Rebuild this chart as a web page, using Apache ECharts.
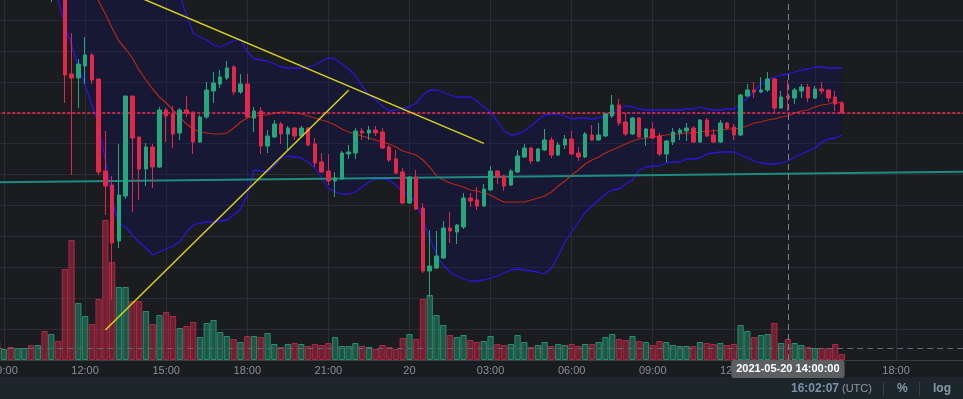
<!DOCTYPE html>
<html>
<head>
<meta charset="utf-8">
<title>15m candles, Bollinger bands</title>
<script src="https://cdn.jsdelivr.net/npm/echarts@6/dist/echarts.min.js"></script>
<style>
  html, body { margin: 0; padding: 0; background: #1b1c20; }
  #chart { width: 963px; height: 399px; }
</style>
</head>
<body>
<div id="chart"></div>
<script>
// 15 minute candles from 2021-05-19 08:45 to 2021-05-20 16:00 (UTC)
// [open, close, low, high]
var ohlc = [
  [43.0,42.2,41.8,43.5],[42.4,43.2,42.0,43.8],[43.2,42.6,42.2,43.5],[42.6,43.0,42.3,43.4],[43.0,43.3,42.7,43.7],
  [43.3,41.2,40.9,43.6],[41.2,42.0,40.8,42.3],[42.0,39.6,39.0,42.3],[39.6,40.5,35.8,41.0],[40.5,38.2,36.6,40.8],
  [38.2,28.5,25.7,38.4],[28.6,28.2,18.5,32.7],[28.2,29.6,25.2,30.1],[29.4,30.5,27.6,32.3],[30.5,28.0,27.6,30.7],
  [28.1,18.8,18.5,28.1],[18.9,17.4,14.5,22.9],[17.5,11.7,6.0,18.4],[11.9,16.5,11.2,21.6],[16.4,26.4,16.1,26.4],
  [26.4,22.2,14.8,26.4],[22.3,19.1,16.0,22.3],[19.1,21.3,17.4,21.7],[21.3,19.3,17.2,21.6],[19.3,25.0,19.2,25.3],
  [25.0,24.4,21.8,25.2],[24.6,22.6,21.2,25.4],[22.7,25.0,22.0,25.2],[25.0,24.7,24.3,26.4],[24.8,21.8,20.6,24.8],
  [21.8,24.3,21.7,24.5],[24.3,27.0,24.1,27.8],[26.9,27.7,25.7,28.8],[27.6,28.3,27.2,29.0],[28.2,29.2,28.0,29.9],
  [29.3,26.8,26.5,29.5],[26.8,27.6,26.6,28.6],[27.6,24.3,24.2,28.6],[24.2,24.9,22.8,25.3],[24.9,21.4,20.6,25.3],
  [21.4,22.4,20.7,23.0],[22.3,23.6,22.2,24.0],[23.6,22.6,21.6,23.8],[22.6,23.2,21.0,23.4],[23.2,22.4,22.0,23.3],
  [22.4,23.2,22.3,23.4],[23.2,21.5,21.4,23.3],[21.6,19.7,19.3,22.2],[19.8,18.8,18.7,20.7],[18.9,17.9,17.5,20.6],
  [17.9,18.2,16.3,18.8],[18.1,20.7,18.0,20.9],[20.6,20.8,20.1,21.5],[20.7,22.9,20.1,23.2],[22.9,22.7,22.0,23.2],
  [22.7,23.0,22.0,23.4],[23.0,22.7,22.4,23.4],[22.8,21.2,21.1,23.2],[21.3,20.0,19.8,21.5],[20.1,18.7,18.6,21.0],
  [18.8,15.7,15.6,19.2],[15.7,18.3,15.6,18.4],[18.3,15.1,15.0,19.0],[15.2,8.9,8.7,15.7],[8.9,9.4,6.3,13.0],
  [9.2,10.4,9.1,12.9],[10.2,13.2,10.1,13.9],[13.2,12.9,11.7,14.8],[12.8,13.5,11.6,13.6],[13.3,16.2,13.1,16.7],
  [16.2,15.9,15.3,16.7],[16.0,15.4,15.0,17.3],[15.4,17.1,15.3,17.6],[17.0,18.9,16.9,19.4],[18.9,18.3,17.6,19.0],
  [18.4,17.4,16.9,18.5],[17.5,18.9,17.4,19.1],[18.8,20.4,18.7,21.0],[20.3,21.2,20.2,21.6],[21.2,19.9,19.6,21.3],
  [19.9,21.1,19.8,21.2],[21.0,22.0,20.9,23.1],[22.0,20.5,20.2,22.3],[20.5,21.5,20.4,21.8],[21.5,22.1,21.1,22.5],
  [22.1,20.6,20.5,22.9],[20.7,20.3,19.9,21.3],[20.3,22.6,20.2,22.8],[22.5,22.0,21.9,23.5],[22.0,22.5,21.9,23.7],
  [22.4,24.6,22.3,24.7],[24.4,25.5,24.2,26.5],[25.5,23.7,23.4,26.1],[23.8,22.6,22.4,24.7],[22.6,24.2,22.5,24.3],
  [24.2,22.3,22.2,24.3],[22.3,23.1,21.4,23.2],[23.1,22.2,22.1,23.8],[22.4,20.6,20.4,22.7],[20.6,21.9,19.8,22.0],
  [21.8,22.8,21.5,23.2],[22.7,23.0,22.0,23.2],[22.9,23.2,21.9,23.7],[23.2,21.8,21.7,23.4],[21.8,24.0,21.7,24.1],
  [24.0,22.4,22.3,24.2],[22.5,21.8,21.7,23.1],[21.8,23.7,21.7,24.0],[23.7,23.2,23.0,23.8],[23.3,22.5,22.0,23.6],
  [22.5,26.5,22.4,26.6],[26.4,27.0,26.3,27.6],[27.0,26.8,26.2,27.8],[26.8,27.0,26.7,28.3],[27.0,28.1,26.8,28.8],
  [28.1,25.2,24.6,28.2],[25.2,26.3,25.1,26.9],[26.4,26.2,24.9,28.0],[26.2,27.0,25.6,27.2],[26.9,27.3,26.2,27.6],
  [27.3,26.2,25.8,27.6],[26.2,27.1,26.1,27.4],[27.1,26.9,26.6,27.8],[27.0,26.2,25.8,27.0],[26.3,25.6,24.9,26.9],
  [25.7,24.7,24.7,25.9]
];

var volume = [
  1900,1100,1300,1200,1200,1500,1500,2900,2600,1900,
  9100,12000,5700,4400,3600,6100,14000,9800,7300,7300,
  5900,5900,4900,3600,4500,4800,4400,3200,3400,3800,
  2300,3700,4000,2800,2400,2100,1800,2400,2400,2300,
  2700,1600,1300,1600,1700,1600,1400,1600,1500,1700,
  2300,1400,1400,1700,1400,1300,1100,1500,1300,1100,
  2200,2600,2100,6100,6500,4500,3500,2500,2300,2500,
  2000,1800,1900,2400,1600,1500,1600,2500,1800,1300,
  1500,1800,1400,1600,1500,1600,1400,1600,1600,1800,
  2300,2600,2100,2000,2400,1900,1800,1500,1900,1800,
  1500,1400,1400,1400,1800,1700,1600,1700,1500,1600,
  3500,2900,2300,2500,2600,3700,1700,2100,1700,1500,
  1300,1200,1200,1200,1600,600
];

// bollinger bands
var bbUpper = [
  44.8,44.9,45.0,45.0,45.1,45.2,45.4,45.7,46.0,46.5,
  46.8,47.0,47.0,46.9,46.8,46.8,46.6,46.4,45.8,44.8,
  43.8,42.6,41.5,40.5,39.5,38.5,37.5,36.4,34.5,32.7,
  32.3,32.0,31.5,31.3,31.6,31.9,32.1,30.8,30.1,30.0,
  29.9,29.6,29.3,29.2,29.2,29.2,29.3,29.5,29.9,30.2,
  30.1,29.6,29.1,28.4,27.4,26.5,26.0,25.4,24.9,25.0,
  25.2,25.3,25.7,26.5,27.0,27.0,26.8,26.5,26.3,26.3,
  26.3,25.9,25.3,24.8,23.9,22.9,22.5,22.6,22.9,23.4,
  24.0,24.5,24.6,24.6,24.4,24.1,24.2,24.2,24.1,24.2,
  24.5,24.8,25.1,25.4,25.3,25.1,25.0,25.0,25.0,25.0,
  25.0,25.0,25.1,25.1,25.3,25.1,25.0,25.0,25.1,25.1,
  25.6,26.2,26.9,27.6,28.1,28.3,28.5,28.6,28.8,29.0,
  29.1,29.3,29.3,29.2,29.2,29.2
];
var bbMid = [
  42.2,42.3,42.4,42.4,42.5,42.5,42.4,42.3,42.0,41.6,
  41.0,40.2,39.4,38.5,37.0,35.9,34.6,33.2,31.9,31.1,
  30.2,29.0,28.0,27.1,26.3,25.7,25.0,24.3,23.6,23.1,
  22.8,22.7,22.6,22.6,22.7,23.2,23.8,24.2,24.4,24.5,
  24.5,24.7,24.8,24.8,24.7,24.6,24.4,24.2,24.0,23.8,
  23.5,23.1,22.8,22.6,22.4,22.2,22.0,21.8,21.6,21.3,
  20.9,20.7,20.5,20.0,19.3,18.4,18.0,17.7,17.5,17.3,
  17.0,16.9,16.7,16.5,16.1,15.8,15.8,15.8,15.8,16.0,
  16.2,16.4,16.8,17.4,17.9,18.5,19.0,19.6,20.0,20.3,
  20.7,21.0,21.3,21.6,21.9,22.1,22.2,22.3,22.4,22.5,
  22.6,22.6,22.7,22.7,22.8,22.9,22.9,23.0,23.1,23.1,
  23.2,23.4,23.7,23.8,24.0,24.1,24.3,24.4,24.7,24.9,
  25.0,25.3,25.5,25.6,25.8,25.7
];
var bbLower = [
  43.5,43.4,43.3,43.2,43.0,42.5,41.5,39.0,37.2,36.0,
  33.5,31.5,29.3,27.5,25.5,23.5,20.0,16.0,13.6,13.3,
  12.5,11.8,11.2,10.5,10.8,11.1,11.4,11.8,12.8,13.5,
  13.7,13.8,13.8,13.9,14.0,14.5,15.1,16.5,19.0,18.9,
  18.8,19.4,20.2,20.4,20.3,20.2,19.8,19.2,18.2,17.2,
  16.8,16.6,16.6,16.8,17.3,17.8,18.1,18.1,18.0,17.5,
  16.8,16.5,15.7,14.0,12.2,10.5,9.5,8.8,8.4,8.1,
  7.9,7.9,8.0,8.2,8.4,8.7,9.0,9.1,9.0,8.9,
  8.8,8.6,9.2,10.4,11.8,12.8,13.8,14.8,15.4,16.0,
  16.6,17.0,17.1,17.6,18.0,19.0,19.3,19.4,19.4,19.7,
  19.8,19.8,20.1,20.1,20.2,20.6,20.7,20.8,20.8,20.8,
  20.5,20.2,19.9,19.7,19.6,19.6,19.7,19.9,20.3,20.6,
  20.9,21.2,21.8,22.1,22.2,22.5
];

// drawn lines: [category index, price]
var trendDown = [[20, 36.56], [72, 21.66]];
var trendUp = [[16, 3.0], [52, 26.97]];
var tealLine = [[0, 17.77], [143, 18.83]];
var lastPrice = 24.7;
var volAvg = 1170;
var cursorIndex = 117; // 2021-05-20 14:00

// time axis categories, 15 minutes apart
var times = [];
var t0 = Date.UTC(2021, 4, 19, 8, 45);
for (var i = 0; i < 144; i++) {
  times.push(new Date(t0 + i * 900000).toISOString().slice(0, 19).replace('T', ' '));
}

var upColor = '#26a67d';
var downColor = '#e0294a';
var gridColor = '#2a2d34';
var font = 'Liberation Sans';

var volData = volume.map(function (v, i) {
  var rising = ohlc[i][1] >= ohlc[i][0];
  return {
    value: v,
    itemStyle: {
      color: rising ? 'rgba(38,166,125,0.42)' : 'rgba(224,41,74,0.42)',
      borderColor: rising ? 'rgba(46,170,128,0.75)' : 'rgba(200,45,78,0.75)'
    }
  };
});
var bbWidth = bbUpper.map(function (u, i) {
  return +(u - bbLower[i]).toFixed(2);
});

var every3h = function (idx) { return idx % 12 === 1; };

var myChart = echarts.init(document.getElementById('chart'));
myChart.setOption({
  backgroundColor: '#1b1c20',
  animation: false,
  grid: [
    {left: -2.758, right: -0.602, top: 0, bottom: 39, outerBoundsMode: 'none'},
    {left: -2.758, right: -0.602, top: 160, bottom: 39, outerBoundsMode: 'none'}
  ],
  xAxis: [
    {
      type: 'category',
      gridIndex: 0,
      data: times,
      boundaryGap: false,
      axisLine: {lineStyle: {color: '#3a3d44'}},
      axisTick: {show: false},
      axisLabel: {
        interval: every3h,
        margin: 5,
        color: '#8b8f97',
        fontSize: 11,
        fontFamily: font,
        formatter: function (val) {
          var hm = val.slice(11, 16);
          return hm === '00:00' ? String(+val.slice(8, 10)) : hm;
        }
      },
      splitLine: {show: true, interval: every3h, lineStyle: {color: gridColor}},
      axisPointer: {
        show: true,
        type: 'line',
        value: cursorIndex,
        status: 'show',
        snap: true,
        triggerTooltip: false,
        lineStyle: {color: '#80848c', type: [6, 4], width: 1},
        label: {
          show: true,
          margin: 0,
          padding: [3, 5],
          backgroundColor: '#5c5e62',
          color: '#ffffff',
          fontWeight: 'bold',
          fontSize: 11,
          fontFamily: font,
          lineHeight: 12
        }
      }
    },
    {type: 'category', gridIndex: 1, data: times, boundaryGap: false, show: false}
  ],
  yAxis: [
    {
      type: 'value',
      gridIndex: 0,
      min: 0,
      max: 36,
      interval: 3.09,
      axisLabel: {show: false},
      axisLine: {show: false},
      axisTick: {show: false},
      splitLine: {show: true, showMinLine: false, showMaxLine: false, lineStyle: {color: gridColor}}
    },
    {type: 'value', gridIndex: 1, min: 0, max: 20000, show: false, splitLine: {show: false}}
  ],
  series: [
    {
      name: 'BB lower',
      type: 'line',
      data: bbLower,
      stack: 'bb',
      symbol: 'none',
      z: 1,
      lineStyle: {color: '#2c14d9', width: 1.3}
    },
    {
      name: 'BB upper',
      type: 'line',
      data: bbWidth,
      stack: 'bb',
      symbol: 'none',
      z: 1,
      lineStyle: {color: '#2c14d9', width: 1.3},
      areaStyle: {color: 'rgba(15,14,100,0.4)'}
    },
    {
      name: 'volume',
      type: 'bar',
      xAxisIndex: 1,
      yAxisIndex: 1,
      data: volData,
      barWidth: 6.3,
      z: 1,
      itemStyle: {borderWidth: 1},
      markLine: {
        silent: true,
        symbol: ['none', 'none'],
        label: {show: false},
        lineStyle: {color: '#62666d', type: [6, 4], width: 1},
        data: [{yAxis: volAvg}]
      }
    },
    {
      name: 'BB basis',
      type: 'line',
      data: bbMid,
      symbol: 'none',
      z: 2,
      lineStyle: {color: '#b8261b', width: 1.2}
    },
    {
      name: 'teal',
      type: 'line',
      data: tealLine,
      symbol: 'none',
      z: 2,
      lineStyle: {color: '#1c8c80', width: 2}
    },
    {
      // current price line
      name: 'last',
      type: 'line',
      data: [[0, lastPrice], [143, lastPrice]],
      symbol: 'none',
      z: 2,
      lineStyle: {color: '#ff2650', type: [3, 2], width: 1.6}
    },
    {
      name: 'price',
      type: 'candlestick',
      data: ohlc.map(function (d) { return [d[0], d[1], d[2], d[3]]; }),
      barWidth: 4,
      z: 3,
      itemStyle: {
        color: upColor,
        color0: downColor,
        borderColor: upColor,
        borderColor0: downColor,
        borderWidth: 1
      }
    },
    {
      name: 'trend down',
      type: 'line',
      data: trendDown,
      symbol: 'none',
      z: 4,
      lineStyle: {color: '#d4d21c', width: 1.5}
    },
    {
      name: 'trend up',
      type: 'line',
      data: trendUp,
      symbol: 'none',
      z: 4,
      lineStyle: {color: '#d4d21c', width: 1.5}
    }
  ],
  graphic: [
    {type: 'rect', x: 0, y: 377, shape: {width: 963, height: 22}, style: {fill: '#1d262b'}, silent: true},
    {type: 'text', x: 791, y: 389, style: {text: '16:02:07', fill: '#7a93aa', font: 'bold 12px "Liberation Sans"', verticalAlign: 'middle'}},
    {type: 'text', x: 842, y: 389, style: {text: '(UTC)', fill: '#8a99a8', font: '11px "Liberation Sans"', verticalAlign: 'middle'}},
    {type: 'line', shape: {x1: 883.5, y1: 382, x2: 883.5, y2: 396}, style: {stroke: '#36424b', lineWidth: 1}},
    {type: 'text', x: 897, y: 389, style: {text: '%', fill: '#8a99a8', font: 'bold 12px "Liberation Sans"', verticalAlign: 'middle'}},
    {type: 'line', shape: {x1: 919.5, y1: 382, x2: 919.5, y2: 396}, style: {stroke: '#36424b', lineWidth: 1}},
    {type: 'text', x: 933, y: 389, style: {text: 'log', fill: '#8a99a8', font: 'bold 12px "Liberation Sans"', verticalAlign: 'middle'}}
  ]
});
</script>
</body>
</html>
